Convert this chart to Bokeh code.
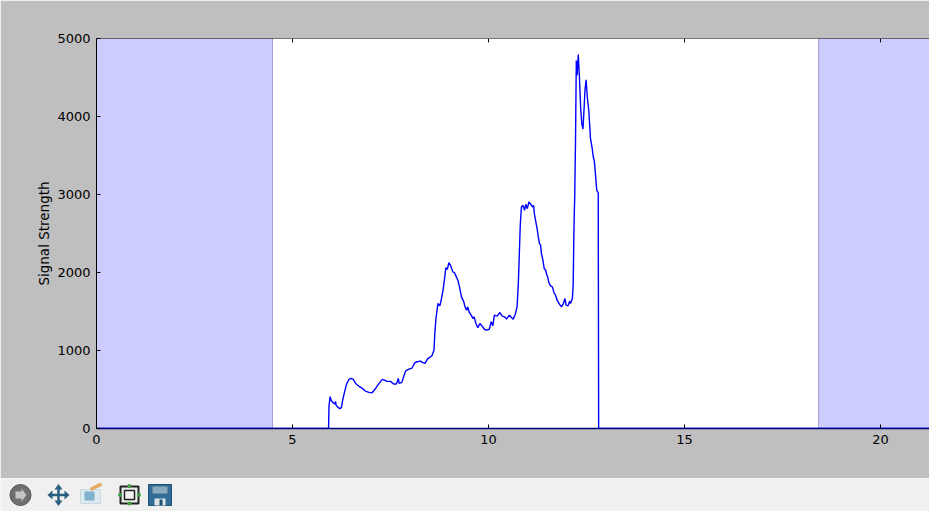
from bokeh.plotting import figure
from bokeh.layouts import column, row
from bokeh.models import Range1d, FixedTicker, Label, Span
from bokeh.embed import file_html
from bokeh.resources import INLINE

hours = [0, 5.92, 5.93, 5.96, 5.99, 6.04, 6.07, 6.10, 6.11, 6.16, 6.21, 6.25, 6.28, 6.33, 6.38, 6.44, 6.50, 6.55, 6.61, 6.69,
         6.78, 6.86, 6.95, 7.03, 7.09, 7.16, 7.23, 7.29, 7.35, 7.41, 7.50, 7.58, 7.65, 7.70, 7.72, 7.79, 7.84, 7.89, 7.97, 8.05,
         8.12, 8.18, 8.27, 8.31, 8.38, 8.44, 8.50, 8.56, 8.61, 8.63,
         8.66, 8.71, 8.76, 8.80, 8.84, 8.88, 8.91, 8.95, 8.99, 9.03, 9.09, 9.13, 9.18, 9.22, 9.26, 9.31, 9.37, 9.40, 9.44, 9.47,
         9.51, 9.56, 9.60, 9.63, 9.68, 9.73, 9.78, 9.84, 9.90, 9.97, 10.02, 10.07, 10.11, 10.15, 10.22, 10.29, 10.35, 10.41, 10.46, 10.53,
         10.59, 10.63, 10.68, 10.73, 10.76, 10.78, 10.81,
         10.84, 10.88, 10.92, 10.95, 10.99, 11.03, 11.07, 11.12, 11.15, 11.17, 11.20, 11.24, 11.27, 11.30, 11.33, 11.35, 11.39, 11.42, 11.46, 11.49,
         11.51, 11.54, 11.58, 11.63, 11.67, 11.71, 11.75, 11.81, 11.86, 11.91, 11.95, 11.98, 12.03, 12.07, 12.09, 12.14, 12.16, 12.18, 12.20,
         12.22, 12.24, 12.26, 12.29, 12.32, 12.35, 12.38, 12.41, 12.44, 12.46, 12.49, 12.52,
         12.56, 12.60, 12.65, 12.67, 12.70, 12.73, 12.76, 12.80, 12.80, 12.81, 21.3]
signal = [0, 0, 280, 408, 356, 331, 314, 344, 301, 271, 254, 271, 365, 472, 570, 629, 642, 629, 578, 544,
          514, 480, 463, 459, 493, 544, 591, 629, 621, 604, 604, 570, 570, 642, 578, 591, 672, 740, 762, 775,
          843, 856, 864, 847, 834, 890, 911, 937, 1005, 1218,
          1410, 1602, 1572, 1666, 1773, 1922, 2059, 2042, 2127, 2093, 2008, 1999, 1944, 1901, 1816, 1688, 1624, 1560, 1517, 1560,
          1487, 1453, 1410, 1432, 1346, 1291, 1346, 1312, 1269, 1261, 1274, 1368, 1316, 1453, 1440, 1487, 1440, 1432, 1402, 1453,
          1419, 1402, 1462, 1560, 1850, 2136, 2605,
          2840, 2861, 2797, 2874, 2818, 2904, 2882, 2840, 2861, 2754, 2669, 2562, 2456, 2370, 2349, 2242, 2157, 2050, 2029, 1965,
          1944, 1871, 1828, 1816, 1743, 1709, 1645, 1594, 1560, 1602, 1666, 1581, 1572, 1632, 1602, 1666, 1837, 2562, 2989,
          3693, 4717, 4525, 4793, 4500, 4120, 3905, 3840, 4120, 4330, 4470, 4250,
          4070, 3725, 3575, 3490, 3425, 3255, 3060, 3020, 2780, 0, 0]
night_starts = [0, 18.42]
night_ends = [4.49, 21.3]
x_ticks = [0, 5, 10, 15, 20]
y_ticks = [0, 1000, 2000, 3000, 4000, 5000]

GREY = "#bfbfbf"
FONT = "DejaVu Sans"
SIZE = "13px"

p = figure(width=929, height=478, output_backend="svg", toolbar_location=None,
           x_range=Range1d(0, 21.25), y_range=Range1d(0, 5000),
           min_border_left=96, min_border_right=0, min_border_top=38, min_border_bottom=50,
           background_fill_color="white", border_fill_color=GREY)
p.grid.visible = False
p.outline_line_color = None

p.quad(left=night_starts, right=night_ends, bottom=0, top=5000,
       fill_color="#0000ff", fill_alpha=0.2, line_color="#000080", line_alpha=0.3, line_width=1)
p.line(hours, signal, line_color="#0000ff", line_width=1.4)
# inward tick marks along the top edge, and the top spine
p.segment(x0=x_ticks, y0=[5000] * len(x_ticks), x1=x_ticks, y1=[4950] * len(x_ticks), line_color="black", line_width=1)
p.add_layout(Span(location=5000, dimension="width", line_color="black", line_width=1))

for ax, ticks in ((p.xaxis[0], x_ticks), (p.yaxis[0], y_ticks)):
    ax.ticker = FixedTicker(ticks=ticks)
    ax.major_tick_in = 4
    ax.major_tick_out = 0
    ax.minor_tick_line_color = None
    ax.axis_line_color = "black"
    ax.major_tick_line_color = "black"
    ax.major_label_text_font = FONT
    ax.major_label_text_font_size = SIZE
    ax.major_label_text_color = "black"
    ax.major_label_standoff = 6

# the zero-valued trace runs along the bottom spine
p.xaxis[0].axis_line_color = "#000080"
p.xaxis[0].axis_line_width = 1.4

p.yaxis[0].axis_label = "Signal Strength"
p.yaxis[0].axis_label_text_font = FONT
p.yaxis[0].axis_label_text_font_size = "13.5px"
p.yaxis[0].axis_label_text_font_style = "normal"
p.yaxis[0].axis_label_text_color = "black"
p.yaxis[0].axis_label_standoff = 2

p.add_layout(Label(x=11.96, y=-365, text="UTC Time", text_font=FONT, text_font_size="13.5px",
                   text_color="black", text_align="center", text_baseline="middle"))

# Window-toolbar strip below the chart, drawn in page pixels
t = figure(width=929, height=33, output_backend="svg", toolbar_location=None,
           x_range=Range1d(0, 929), y_range=Range1d(511, 478),
           min_border=0, min_border_left=0, min_border_right=0, min_border_top=0, min_border_bottom=0,
           background_fill_color="#f0f0f0", border_fill_color="#f0f0f0")
t.axis.visible = False
t.grid.visible = False
t.outline_line_color = None

# forward button
t.scatter([20], [494.5], size=21, fill_color="#6f6f6f", line_color="#555555")
t.patch([15, 21, 21, 26, 21, 21, 15], [491, 491, 488, 494.5, 501, 498, 498], fill_color="#c4c4c4", line_color=None)
# pan cross
t.segment([49, 58], [494.5, 485.5], [67, 58], [494.5, 503], line_color="#2a5f80", line_width=2.5)
t.patches([[47, 52, 52], [69, 64, 64], [54, 62, 58], [54, 62, 58]],
          [[494.5, 490, 499], [494.5, 490, 499], [489, 489, 483.5], [500, 500, 505.5]],
          fill_color="#2a5f80", line_color=None)
# edit icon
t.quad(left=[80], right=[100], top=[489], bottom=[503], fill_color="#dce9ef", line_color="#c8d8e0")
t.quad(left=[84], right=[94], top=[491], bottom=[500], fill_color="#7fb2cc", line_color=None)
t.segment([90], [489], [101], [483.5], line_color="#e8a860", line_width=3.5)
# subplots icon
t.quad(left=[120], right=[138], top=[486], bottom=[503], fill_color="#e8eee8", line_color="#222222", line_width=2)
t.quad(left=[124], right=[134], top=[490], bottom=[499], fill_color="#f4f4f4", line_color="#222222", line_width=1.5)
t.scatter([129, 129, 119.5, 138.5], [485.5, 503, 494.5, 494.5], size=4, fill_color="#3fa040", line_color=None)
# save icon
t.quad(left=[148], right=[171], top=[484], bottom=[505], fill_color="#2f6d96", line_color="#1f4f70")
t.quad(left=[152], right=[167], top=[486], bottom=[493], fill_color="#8aa9bd", line_color=None)
t.quad(left=[154], right=[165], top=[498], bottom=[505], fill_color="#dfe6ea", line_color=None)
t.quad(left=[159], right=[162], top=[499], bottom=[505], fill_color="#1f4f70", line_color=None)

page = column(p, row(t), spacing=0)
open("out.html", "w").write(file_html(page, INLINE))
